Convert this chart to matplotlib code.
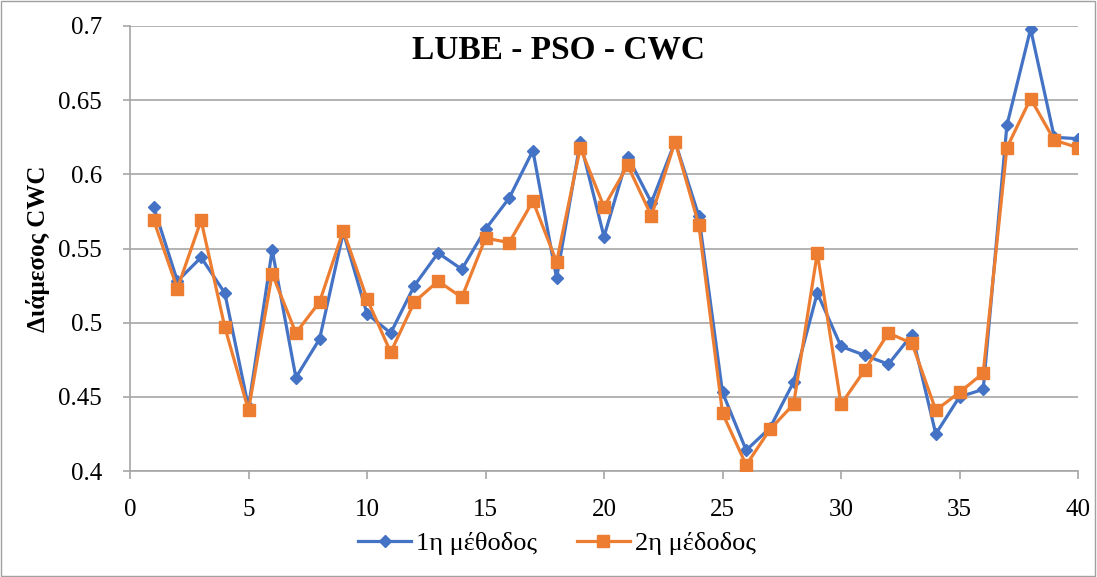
import matplotlib
matplotlib.use("Agg")
import matplotlib.pyplot as plt
from matplotlib.ticker import FixedLocator, FuncFormatter
from matplotlib.patches import Rectangle

x = list(range(1, 41))
method1 = [0.578, 0.528, 0.544, 0.520, 0.443, 0.549, 0.463, 0.489, 0.561, 0.506,
           0.493, 0.525, 0.547, 0.536, 0.563, 0.584, 0.616, 0.530, 0.622, 0.558,
           0.612, 0.581, 0.622, 0.572, 0.453, 0.414, 0.429, 0.460, 0.520, 0.484,
           0.478, 0.472, 0.492, 0.425, 0.450, 0.455, 0.633, 0.698, 0.625, 0.624]
method2 = [0.569, 0.523, 0.569, 0.497, 0.441, 0.533, 0.493, 0.514, 0.562, 0.516,
           0.480, 0.514, 0.528, 0.517, 0.557, 0.554, 0.582, 0.541, 0.618, 0.578,
           0.606, 0.572, 0.622, 0.566, 0.439, 0.404, 0.428, 0.445, 0.547, 0.445,
           0.468, 0.493, 0.486, 0.441, 0.453, 0.466, 0.618, 0.651, 0.623, 0.618]
labels = ["1η μέθοδος", "2η μέδοδος"]
xticks = [0, 5, 10, 15, 20, 25, 30, 35, 40]
yticks = [0.4, 0.45, 0.5, 0.55, 0.6, 0.65, 0.7]
title = "LUBE - PSO - CWC"
ylabel = "Διάμεσος CWC"

plt.rcParams['font.family'] = ['Liberation Serif', 'DejaVu Serif']

W, H = 1097, 577
fig = plt.figure(figsize=(W / 100, H / 100), dpi=100)
ax = fig.add_axes([130 / W, 1 - 471 / H, (1078 - 130) / W, (471 - 26) / H])

fig.patches.append(Rectangle((0.001, 0.001), 0.997, 0.997, transform=fig.transFigure,
                             fill=False, edgecolor='#A0A0A0', linewidth=1.0))

grid_c = '#A6A6A6'
ax.plot(x, method1, color='#4472C4', marker='D', markersize=6.5, linewidth=2.3,
        label=labels[0], zorder=3)
ax.plot(x, method2, color='#ED7D31', marker='s', markersize=8.5, linewidth=2.3,
        label=labels[1], zorder=4)

ax.set_xlim(0, 40)
ax.set_ylim(0.4, 0.7)
ax.xaxis.set_major_locator(FixedLocator(xticks))
ax.yaxis.set_major_locator(FixedLocator(yticks))
ax.yaxis.set_major_formatter(FuncFormatter(lambda v, p: f"{v:g}"))
ax.grid(axis='y', color=grid_c, linewidth=1.2)
ax.set_axisbelow(True)
for s in ['top', 'right']:
    ax.spines[s].set_visible(False)
for s in ['left', 'bottom']:
    ax.spines[s].set_color(grid_c)
    ax.spines[s].set_linewidth(1.2)
ax.tick_params(axis='x', direction='out', length=6, color=grid_c, width=1.2,
               labelsize=18, pad=14)
ax.tick_params(axis='y', direction='out', length=5, color=grid_c, width=1.2,
               labelsize=18, pad=15)

ax.set_ylabel(ylabel, fontsize=18, fontweight='bold', labelpad=6)
fig.text(558 / W, 1 - 50 / H, title, ha='center', va='center',
         fontsize=24, fontweight='bold')

fig.legend(loc='center', bbox_to_anchor=(557 / W, 1 - 543 / H), ncol=2,
           frameon=False, fontsize=19, handlelength=2.0, columnspacing=1.5,
           handletextpad=0.2)

fig.savefig("out.png", dpi=100)
